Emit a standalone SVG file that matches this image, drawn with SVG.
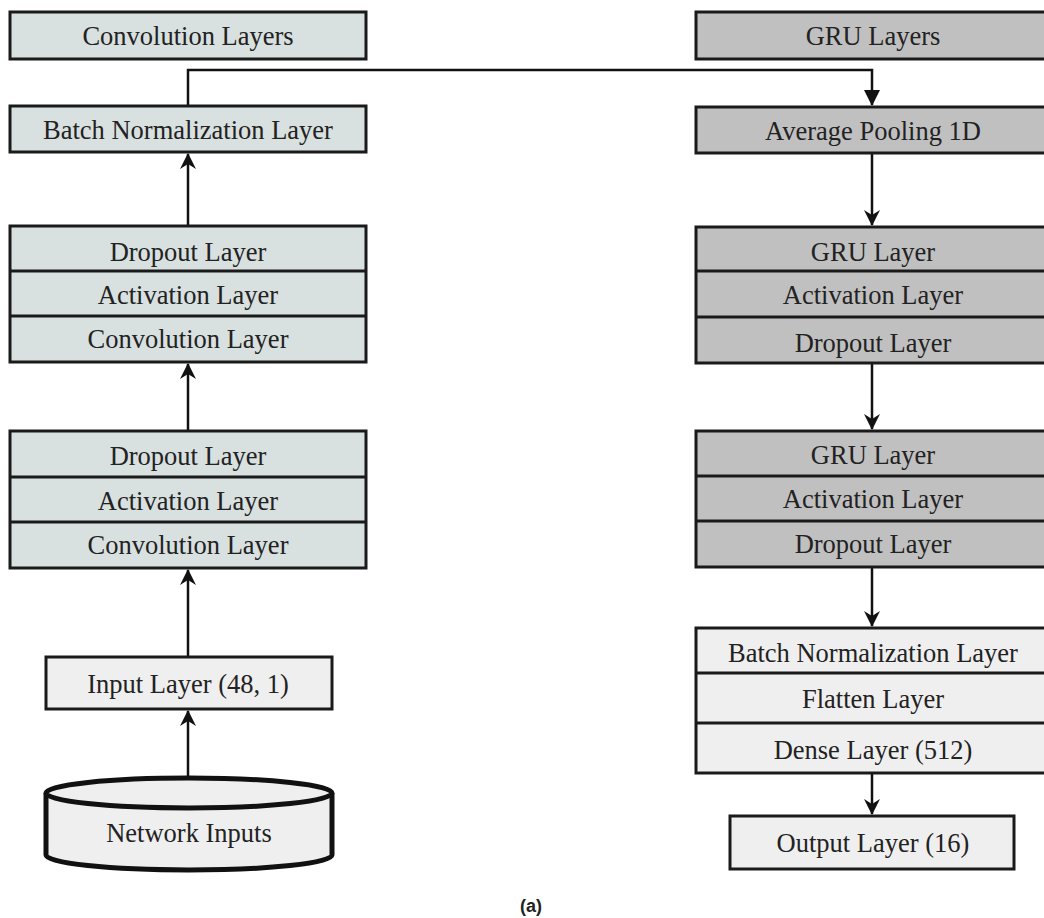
<svg xmlns="http://www.w3.org/2000/svg" width="1044" height="918" viewBox="0 0 1044 918">
<style>
.box{stroke:#1a1a1a;stroke-width:3}
.conv{fill:#d8e0e0}
.gru{fill:#c0c0c0}
.lite{fill:#efefef}
.div{stroke:#1a1a1a;stroke-width:3}
text{font-family:"Liberation Serif","Times New Roman",serif;font-size:26.5px;fill:#222;text-anchor:middle}
.edge{fill:none;stroke:#111;stroke-width:2.5}
</style>
<defs>
<marker id="stealth" viewBox="0 0 16 16" refX="15" refY="8" markerWidth="16" markerHeight="16" markerUnits="userSpaceOnUse" orient="auto">
<path d="M0,0 L16,8 L0,16 L5,8 Z" fill="#111"/>
</marker>
<marker id="tri" viewBox="0 0 16 16" refX="15" refY="8" markerWidth="16" markerHeight="18" markerUnits="userSpaceOnUse" orient="auto">
<path d="M0,0 L16,8 L0,16 Z" fill="#111"/>
</marker>
</defs>
<rect width="1044" height="918" fill="#fff"/>

<g id="connectors">
<path class="edge" d="M188,106 V70 H872 V105" marker-end="url(#tri)"/>
<path class="edge" d="M188,226 V154" marker-end="url(#stealth)"/>
<path class="edge" d="M188,431 V364" marker-end="url(#stealth)"/>
<path class="edge" d="M188,657 V570" marker-end="url(#stealth)"/>
<path class="edge" d="M188,779 V711" marker-end="url(#stealth)"/>
<path class="edge" d="M872,153 V225" marker-end="url(#stealth)"/>
<path class="edge" d="M872,363 V429" marker-end="url(#stealth)"/>
<path class="edge" d="M872,567 V626" marker-end="url(#stealth)"/>
<path class="edge" d="M872,773 V814" marker-end="url(#stealth)"/>
</g>

<g id="conv-layers">
<rect class="box conv" x="10" y="12" width="356" height="47"/>
<text x="188" y="45">Convolution Layers</text>
</g>
<g id="conv-batchnorm">
<rect class="box conv" x="10" y="106" width="356" height="46"/>
<text x="188" y="139">Batch Normalization Layer</text>
</g>
<g id="conv-block1">
<rect class="box conv" x="10" y="226" width="356" height="136"/>
<line class="div" x1="10" y1="271" x2="366" y2="271"/>
<line class="div" x1="10" y1="316" x2="366" y2="316"/>
<text x="188" y="261">Dropout Layer</text>
<text x="188" y="304">Activation Layer</text>
<text x="188" y="348">Convolution Layer</text>
</g>
<g id="conv-block2">
<rect class="box conv" x="10" y="431" width="356" height="137"/>
<line class="div" x1="10" y1="477" x2="366" y2="477"/>
<line class="div" x1="10" y1="522" x2="366" y2="522"/>
<text x="188" y="465">Dropout Layer</text>
<text x="188" y="510">Activation Layer</text>
<text x="188" y="554">Convolution Layer</text>
</g>
<g id="input-layer">
<rect class="box lite" x="46" y="657" width="286" height="52"/>
<text x="188" y="693">Input Layer (48, 1)</text>
</g>
<g id="network-inputs">
<path d="M46,793 V855 A143,15 0 0 0 332,855 V793" fill="#efefef" stroke="#111" stroke-width="5"/>
<ellipse cx="189" cy="793" rx="143" ry="15" fill="#efefef" stroke="#111" stroke-width="5"/>
<text x="189" y="842">Network Inputs</text>
</g>

<g id="gru-layers">
<rect class="box gru" x="696" y="12" width="356" height="47"/>
<text x="873" y="45">GRU Layers</text>
</g>
<g id="avg-pool">
<rect class="box gru" x="696" y="107" width="356" height="46"/>
<text x="873" y="140">Average Pooling 1D</text>
</g>
<g id="gru-block1">
<rect class="box gru" x="696" y="227" width="356" height="136"/>
<line class="div" x1="696" y1="271" x2="1052" y2="271"/>
<line class="div" x1="696" y1="317" x2="1052" y2="317"/>
<text x="873" y="261">GRU Layer</text>
<text x="873" y="304">Activation Layer</text>
<text x="873" y="352">Dropout Layer</text>
</g>
<g id="gru-block2">
<rect class="box gru" x="696" y="431" width="356" height="136"/>
<line class="div" x1="696" y1="476" x2="1052" y2="476"/>
<line class="div" x1="696" y1="521" x2="1052" y2="521"/>
<text x="873" y="464">GRU Layer</text>
<text x="873" y="508">Activation Layer</text>
<text x="873" y="553">Dropout Layer</text>
</g>
<g id="dense-block">
<rect class="box lite" x="696" y="628" width="356" height="145"/>
<line class="div" x1="696" y1="673" x2="1052" y2="673"/>
<line class="div" x1="696" y1="723" x2="1052" y2="723"/>
<text x="873" y="662">Batch Normalization Layer</text>
<text x="873" y="708">Flatten Layer</text>
<text x="873" y="759">Dense Layer (512)</text>
</g>
<g id="output-layer">
<rect class="box lite" x="730" y="816" width="284" height="53"/>
<text x="873" y="852">Output Layer (16)</text>
</g>
<text x="531" y="912" style="font-family:'Liberation Sans',Arial,sans-serif;font-size:18px;font-weight:bold">(a)</text>
</svg>
